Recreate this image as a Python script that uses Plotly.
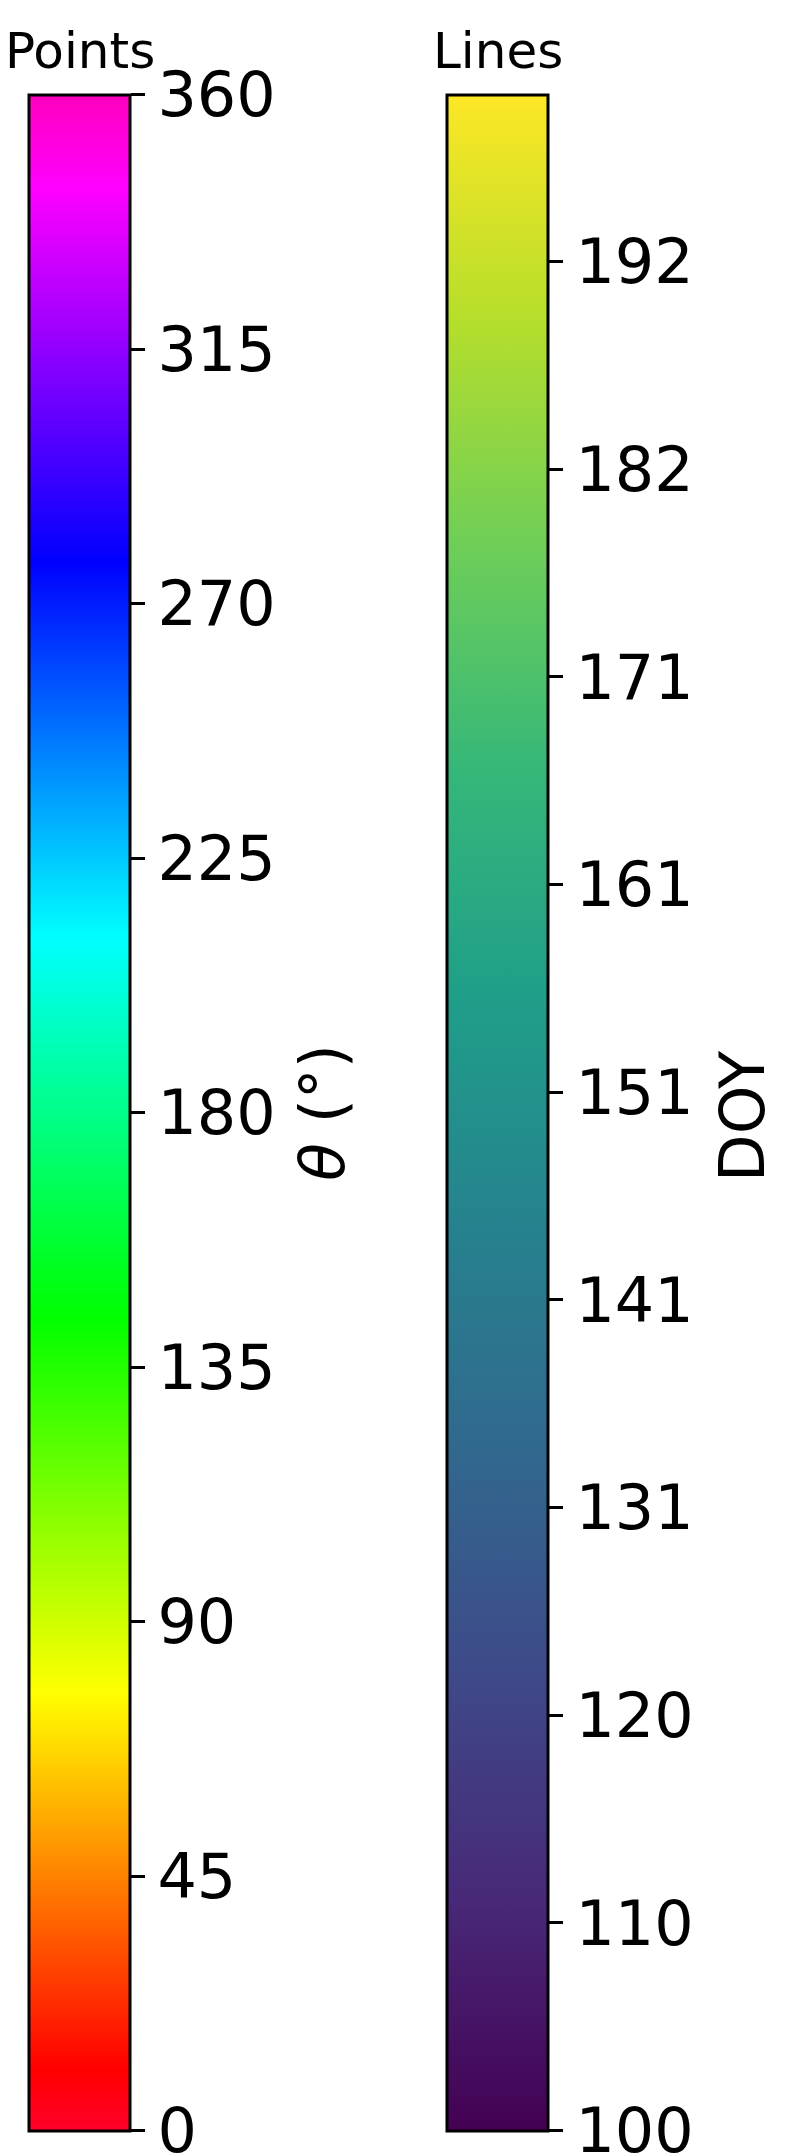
import plotly.graph_objects as go

# ---- data ----
points_range = [0, 360]
points_tickvals = [0, 45, 90, 135, 180, 225, 270, 315, 360]
points_ticktext = ["0", "45", "90", "135", "180", "225", "270", "315", "360"]
points_title = "Points"
points_label = "<i>θ</i> (°)"

lines_range = [100, 200]
lines_tickvals = [100, 110.2, 120.4, 130.6, 140.8, 151.0, 161.2, 171.4, 181.6, 191.8]
lines_ticktext = ["100", "110", "120", "131", "141", "151", "161", "171", "182", "192"]
lines_title = "Lines"
lines_label = "DOY"

gist_rainbow = [
    [0.000, "rgb(255,0,41)"],
    [0.030, "rgb(255,0,0)"],
    [0.215, "rgb(255,255,0)"],
    [0.400, "rgb(0,255,0)"],
    [0.586, "rgb(0,255,255)"],
    [0.770, "rgb(0,0,255)"],
    [0.954, "rgb(255,0,255)"],
    [1.000, "rgb(255,0,191)"],
]
viridis = [
    [0.0, "#440154"], [0.111, "#482878"], [0.222, "#3e4989"], [0.333, "#31688e"],
    [0.444, "#26828e"], [0.556, "#1f9e89"], [0.667, "#35b779"], [0.778, "#6ece58"],
    [0.889, "#b5de2b"], [1.0, "#fde725"],
]

W, H = 802, 2155
FONT = "DejaVu Sans"
TICK_SIZE = 62
TITLE_SIZE = 50
bar_top, bar_bot = 94.5, 2130.0
bar_len = bar_bot - bar_top
thick = 101
left_x0, right_x0 = 29, 447

def cb(x0, tickvals, ticktext):
    return dict(
        thicknessmode="pixels", thickness=thick,
        lenmode="pixels", len=bar_len,
        x=x0 / W, xanchor="left", xpad=0,
        y=1 - bar_top / H, yanchor="top", ypad=0,
        outlinewidth=3, outlinecolor="black",
        ticks="outside", ticklen=14, tickwidth=3, tickcolor="black",
        tickvals=tickvals, ticktext=ticktext,
        ticklabeloverflow="allow",
        tickfont=dict(family=FONT, size=TICK_SIZE, color="black"),
        bgcolor="rgba(0,0,0,0)", borderwidth=0,
    )

fig = go.Figure()
fig.add_trace(go.Scatter(
    x=[0, 1], y=[0, 1], mode="markers", hoverinfo="skip", showlegend=False,
    marker=dict(size=0, opacity=0, color=points_range, cmin=points_range[0], cmax=points_range[1],
                colorscale=gist_rainbow, showscale=True,
                colorbar=cb(left_x0, points_tickvals, points_ticktext)),
))
fig.add_trace(go.Scatter(
    x=[0, 1], y=[0, 1], mode="markers", hoverinfo="skip", showlegend=False,
    marker=dict(size=0, opacity=0, color=lines_range, cmin=lines_range[0], cmax=lines_range[1],
                colorscale=viridis, showscale=True,
                colorbar=cb(right_x0, lines_tickvals, lines_ticktext)),
))

annos = [
    dict(text=points_title, x=(left_x0 + thick / 2) / W, y=1 - 82 / H, xanchor="center", yanchor="bottom",
         font=dict(family=FONT, size=TITLE_SIZE, color="black")),
    dict(text=lines_title, x=(right_x0 + thick / 2) / W, y=1 - 82 / H, xanchor="center", yanchor="bottom",
         font=dict(family=FONT, size=TITLE_SIZE, color="black")),
    dict(text=points_label, x=322 / W, y=1 - 1113 / H, xanchor="center", yanchor="middle", textangle=-90,
         font=dict(family=FONT, size=TICK_SIZE, color="black")),
    dict(text=lines_label, x=742 / W, y=1 - 1117 / H, xanchor="center", yanchor="middle", textangle=-90,
         font=dict(family=FONT, size=TICK_SIZE, color="black")),
]
for a in annos:
    a.update(xref="paper", yref="paper", showarrow=False)

fig.update_layout(
    width=W, height=H, margin=dict(l=0, r=0, t=0, b=0, pad=0),
    paper_bgcolor="white", plot_bgcolor="white",
    xaxis=dict(visible=False), yaxis=dict(visible=False),
    annotations=annos, showlegend=False,
)
fig.write_html("out.html")
